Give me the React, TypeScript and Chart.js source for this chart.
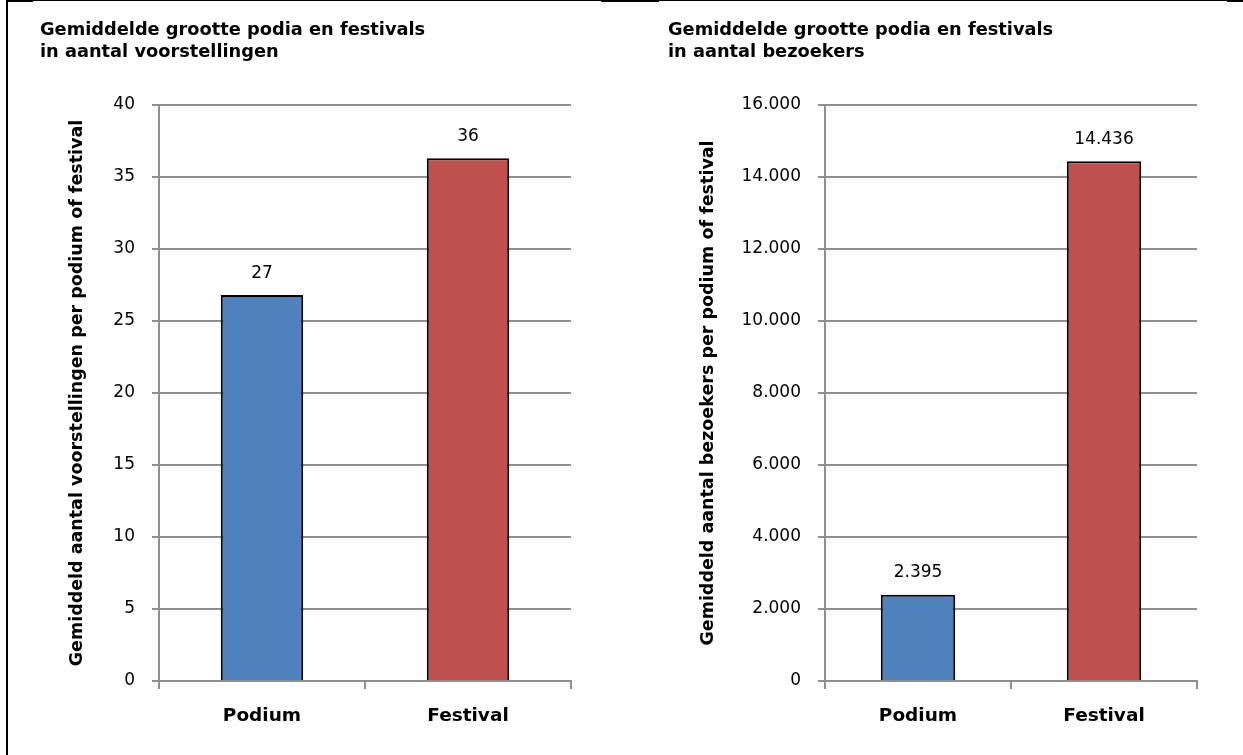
import React, { useEffect, useRef } from "react";
import { Chart, registerables } from "chart.js";

Chart.register(...registerables);

const categories = ["Podium", "Festival"];
const voorstellingen = [26.8, 36.3];
const voorstellingenLabels = ["27", "36"];
const bezoekers = [2395, 14436];
const bezoekersLabels = ["2.395", "14.436"];
const barColors = ["#4F81BD", "#C0504D"];
const leftTitle = ["Gemiddelde grootte podia en festivals", "in aantal voorstellingen"];
const rightTitle = ["Gemiddelde grootte podia en festivals", "in aantal bezoekers"];
const leftAxisTitle = "Gemiddeld aantal voorstellingen per podium of festival";
const rightAxisTitle = "Gemiddeld aantal bezoekers per podium of festival";
const leftMax = 40;
const leftStep = 5;
const rightMax = 16000;
const rightStep = 2000;

const FONT = "'DejaVu Sans', 'Liberation Sans', Arial, sans-serif";
const GRAY = "#8e8e8e";

const fmt = (n: number) => String(n).replace(/\B(?=(\d{3})+(?!\d))/g, ".");

type Cfg = {
  values: number[];
  labels: string[];
  max: number;
  step: number;
  title: string[];
  axisTitle: string;
  axisWidth: number;
  axisTitlePad: number;
  padRight: number;
  titleX: number;
};

function makeConfig(c: Cfg): any {
  const titlePlugin = {
    id: "customTitle",
    afterDraw(chart: any) {
      const ctx = chart.ctx;
      ctx.save();
      ctx.fillStyle = "#000";
      ctx.font = `bold 17.8px ${FONT}`;
      ctx.textAlign = "left";
      ctx.textBaseline = "middle";
      c.title.forEach((line, i) => ctx.fillText(line, c.titleX, 30 + i * 22));
      ctx.restore();
    },
  };
  const valuePlugin = {
    id: "valueLabels",
    afterDatasetsDraw(chart: any) {
      const ctx = chart.ctx;
      const meta = chart.getDatasetMeta(0);
      ctx.save();
      ctx.fillStyle = "#000";
      ctx.font = `17px ${FONT}`;
      ctx.textAlign = "center";
      ctx.textBaseline = "middle";
      meta.data.forEach((bar: any, i: number) => {
        ctx.fillText(c.labels[i], bar.x, bar.y - 22);
      });
      ctx.restore();
    },
  };
  return {
    type: "bar",
    data: {
      labels: categories,
      datasets: [
        {
          data: c.values,
          backgroundColor: barColors,
          borderColor: "#000",
          borderWidth: 2,
          categoryPercentage: 1,
          barPercentage: 0.4,
        },
      ],
    },
    options: {
      responsive: false,
      maintainAspectRatio: false,
      animation: false,
      devicePixelRatio: 1,
      layout: { padding: { top: 105, left: 0, right: c.padRight, bottom: 0 } },
      plugins: {
        legend: { display: false },
        tooltip: { enabled: false },
        title: { display: false },
      },
      scales: {
        x: {
          grid: {
            display: true,
            drawOnChartArea: false,
            drawTicks: true,
            tickLength: 8,
            color: GRAY,
            lineWidth: 2,
            offset: true,
          },
          border: { display: true, color: GRAY, width: 2 },
          ticks: {
            font: { family: FONT, size: 18.5, weight: "bold" },
            color: "#000",
            padding: 16,
          },
          afterFit: (s: any) => {
            s.height = 74;
          },
        },
        y: {
          min: 0,
          max: c.max,
          ticks: {
            stepSize: c.step,
            padding: 17,
            font: { family: FONT, size: 17 },
            color: "#000",
            callback: (v: any) => fmt(Number(v)),
          },
          grid: { color: GRAY, lineWidth: 2, tickLength: 7 },
          border: { display: true, color: GRAY, width: 2 },
          title: {
            display: true,
            text: c.axisTitle,
            font: { family: FONT, size: 17.5, weight: "bold" },
            color: "#000",
            padding: { top: c.axisTitlePad, bottom: 0 },
          },
          afterFit: (s: any) => {
            s.width = c.axisWidth;
          },
        },
      },
    },
    plugins: [titlePlugin, valuePlugin],
  };
}

function BarChart(props: { cfg: Cfg; left: number; width: number }) {
  const ref = useRef<HTMLCanvasElement | null>(null);
  useEffect(() => {
    if (!ref.current) return;
    const chart = new Chart(ref.current, makeConfig(props.cfg));
    return () => chart.destroy();
  }, []);
  return (
    <canvas
      ref={ref}
      width={props.width}
      height={755}
      style={{ position: "absolute", left: props.left, top: 0, width: props.width, height: 755, display: "block" }}
    />
  );
}

export default function App() {
  const leftCfg: Cfg = {
    values: voorstellingen,
    labels: voorstellingenLabels,
    max: leftMax,
    step: leftStep,
    title: leftTitle,
    axisTitle: leftAxisTitle,
    axisWidth: 159,
    axisTitlePad: 66.5,
    padRight: 49,
    titleX: 40,
  };
  const rightCfg: Cfg = {
    values: bezoekers,
    labels: bezoekersLabels,
    max: rightMax,
    step: rightStep,
    title: rightTitle,
    axisTitle: rightAxisTitle,
    axisWidth: 205,
    axisTitlePad: 77.5,
    padRight: 46,
    titleX: 48,
  };
  return (
    <div style={{ position: "absolute", left: 0, top: 0, width: 1243, height: 755, background: "#fff", overflow: "hidden" }}>
      <BarChart cfg={leftCfg} left={0} width={620} />
      <BarChart cfg={rightCfg} left={620} width={623} />
      <div style={{ position: "absolute", left: 6, top: 0, width: 2, height: 755, background: "#000" }} />
      <div style={{ position: "absolute", left: 6, top: 0, width: 1237, height: 1, background: "#000" }} />
      <div style={{ position: "absolute", left: 6, top: 0, width: 27, height: 2, background: "#000" }} />
      <div style={{ position: "absolute", left: 601, top: 0, width: 58, height: 2, background: "#000" }} />
      <div style={{ position: "absolute", left: 1227, top: 0, width: 16, height: 2, background: "#000" }} />
    </div>
  );
}
